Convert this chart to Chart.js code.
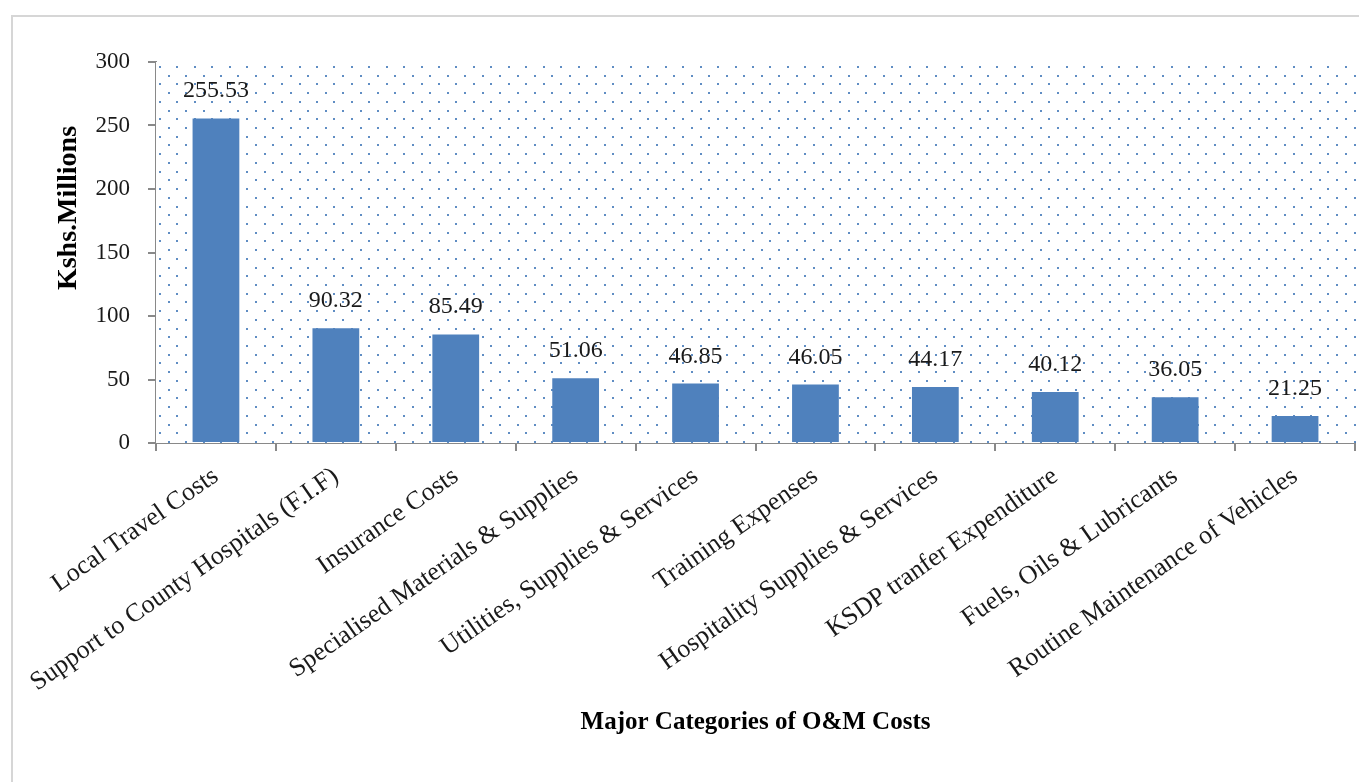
<!DOCTYPE html>
<html>
<head>
<meta charset="utf-8">
<script src="https://cdn.jsdelivr.net/npm/chart.js"></script>
<style>
  html, body { margin: 0; padding: 0; background: #fff; }
  #frame { position: absolute; left: 11px; top: 15px; width: 1400px; height: 900px;
           border-left: 2px solid #d6d6d6; border-top: 2px solid #d6d6d6; }
  #myChart { position: absolute; left: 0; top: 0; }
</style>
</head>
<body>
<div id="frame"></div>
<canvas id="myChart" width="1359" height="782"></canvas>
<script>
// O&M cost categories and amounts (Kshs. Millions)
var categories = [
    'Local Travel Costs',
    'Support to County Hospitals (F.I.F)',
    'Insurance Costs',
    'Specialised Materials & Supplies',
    'Utilities, Supplies & Services',
    'Training Expenses',
    'Hospitality Supplies & Services',
    'KSDP tranfer Expenditure',
    'Fuels, Oils & Lubricants',
    'Routine Maintenance of Vehicles'
];
var costs = [255.53, 90.32, 85.49, 51.06, 46.85, 46.05, 44.17, 40.12, 36.05, 21.25];
var yMin = 0, yMax = 300, yStep = 50;

var yTitle = 'Kshs.Millions';
var xTitle = 'Major Categories of O&M Costs';

var serif = '"Liberation Serif", "Times New Roman", serif';
var axisGray = '#898989';

// dotted fill behind the bars
const dottedArea = {
    id: 'dottedArea',
    beforeDatasetsDraw(chart) {
        const ctx = chart.ctx, a = chart.chartArea;
        ctx.save();
        ctx.fillStyle = '#ffffff';
        ctx.fillRect(a.left, a.top, a.right - a.left, a.bottom - a.top);
        ctx.fillStyle = 'rgba(79,129,189,0.9)';
        var step = 8.72;
        var j = 0;
        for (var y = a.top + 4; y < a.bottom - 1; y += step, j++) {
            var i = 0;
            for (var x = a.left + 3; x < a.right - 1; x += step, i++) {
                if ((i + j) % 2 === 0) {
                    ctx.fillRect(Math.round(x), Math.round(y), 2, 2);
                }
            }
        }
        ctx.restore();
    }
};

// value labels above bars + rotated y title
const extras = {
    id: 'extras',
    afterDatasetsDraw(chart) {
        const ctx = chart.ctx;
        const meta = chart.getDatasetMeta(0);
        ctx.save();
        ctx.font = '24px ' + serif;
        ctx.fillStyle = '#1a1a1a';
        ctx.textAlign = 'center';
        ctx.textBaseline = 'alphabetic';
        meta.data.forEach(function(bar, i) {
            ctx.fillText(costs[i].toFixed(2), bar.x, bar.y - 21);
        });
        ctx.restore();

        ctx.save();
        ctx.font = 'bold 28px ' + serif;
        ctx.fillStyle = '#000';
        ctx.textAlign = 'center';
        ctx.textBaseline = 'middle';
        ctx.translate(69, 208);
        ctx.rotate(-Math.PI / 2);
        ctx.fillText(yTitle, 0, 0);
        ctx.restore();
    }
};

const data = {
    labels: categories,
    datasets: [{
        label: 'O&M Costs',
        data: costs,
        backgroundColor: '#4f81bd',
        borderWidth: 0,
        categoryPercentage: 1.0,
        barPercentage: 0.39
    }]
};

const config = {
    type: 'bar',
    data: data,
    options: {
        responsive: false,
        animation: false,
        devicePixelRatio: 1,
        layout: {
            padding: { top: 62, right: 4, bottom: 0, left: 0 }
        },
        plugins: {
            legend: { display: false },
            tooltip: { enabled: false }
        },
        scales: {
            x: {
                afterFit: function(scale) { scale.height = 339; },
                grid: {
                    drawOnChartArea: false,
                    drawTicks: true,
                    tickLength: 8,
                    color: axisGray,
                    lineWidth: 2
                },
                border: { display: true, color: axisGray, width: 2 },
                ticks: {
                    autoSkip: false,
                    minRotation: 35,
                    maxRotation: 35,
                    padding: 10,
                    color: '#1a1a1a',
                    font: { family: serif, size: 26 }
                },
                title: {
                    display: true,
                    text: xTitle,
                    color: '#000',
                    font: { family: serif, size: 25, weight: 'bold' },
                    padding: { top: 0, bottom: 44 }
                }
            },
            y: {
                min: yMin,
                max: yMax,
                afterFit: function(scale) { scale.width = 156; },
                grid: {
                    drawOnChartArea: false,
                    drawTicks: true,
                    tickLength: 8,
                    color: axisGray,
                    lineWidth: 2
                },
                border: { display: true, color: axisGray, width: 2 },
                ticks: {
                    stepSize: yStep,
                    padding: 18,
                    color: '#1a1a1a',
                    font: { family: serif, size: 23 }
                }
            }
        }
    },
    plugins: [dottedArea, extras]
};

const myChart = new Chart(document.getElementById('myChart'), config);
</script>
</body>
</html>
